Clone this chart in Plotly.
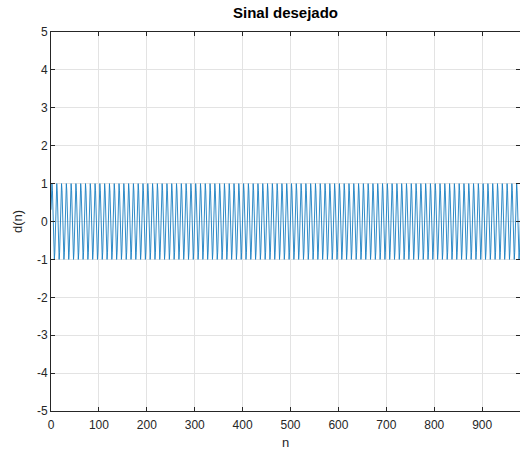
import plotly.graph_objects as go

# One period of the desired signal (about 10 samples per cycle, peaks at +/-1)
period_values = [0.31, 0.81, 1.0, 0.81, 0.31, -0.31, -0.81, -1.0, -0.81, -0.31]
n_periods = 100
d_values = period_values * n_periods
n_values = list(range(len(d_values)))

x_ticks = [0, 100, 200, 300, 400, 500, 600, 700, 800, 900]
x_tick_labels = ["0", "100", "200", "300", "400", "500", "600", "700", "800", "900"]
y_ticks = [-5, -4, -3, -2, -1, 0, 1, 2, 3, 4, 5]
y_tick_labels = ["-5", "-4", "-3", "-2", "-1", "0", "1", "2", "3", "4", "5"]

FONT = "Liberation Sans, Arial, Helvetica"

fig = go.Figure()
fig.add_trace(go.Scatter(x=n_values, y=d_values, mode="lines",
                         line=dict(color="#1a7fc2", width=0.9)))

axis_common = dict(
    showline=True, linecolor="#262626", linewidth=1,
    mirror="ticks", ticks="inside", ticklen=4, tickcolor="#262626",
    showgrid=True, gridcolor="#e3e3e3", gridwidth=1,
    zeroline=False, automargin=False,
    tickfont=dict(family=FONT, size=12, color="#262626"),
)

fig.update_layout(
    width=520, height=455,
    margin=dict(l=51, r=0, t=32, b=44),
    paper_bgcolor="white", plot_bgcolor="white",
    showlegend=False,
    title=dict(text="<b>Sinal desejado</b>", x=0.5, xanchor="center",
               xref="paper", yref="container", y=0.972, yanchor="middle",
               font=dict(family=FONT, size=15, color="black")),
    xaxis=dict(range=[0, 979], tickvals=x_ticks, ticktext=x_tick_labels,
               ticklabelstandoff=3,
               title=dict(text="n", standoff=6,
                          font=dict(family=FONT, size=13, color="#262626")),
               **axis_common),
    yaxis=dict(range=[-5, 5], tickvals=y_ticks, ticktext=y_tick_labels,
               title=dict(text="d(n)", standoff=11,
                          font=dict(family=FONT, size=13, color="#262626")),
               **axis_common),
)

fig.write_html("out.html",
               config={"displayModeBar": False},
               post_script="document.body.style.margin='0';document.body.style.overflow='hidden';")
